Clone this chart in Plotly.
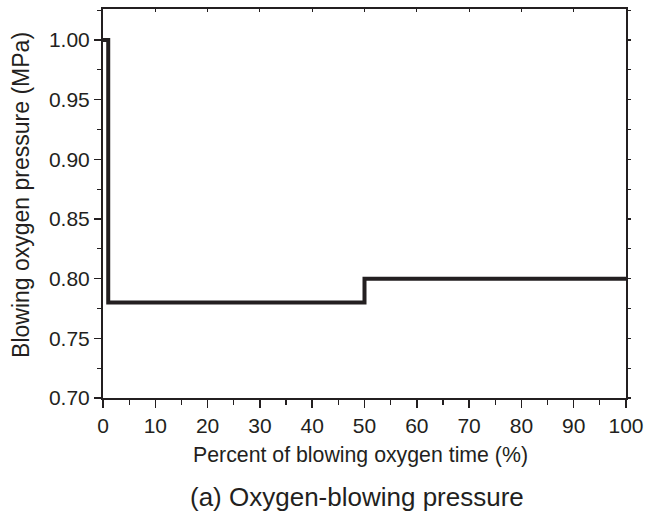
import plotly.graph_objects as go

time_pct = [0, 1, 50, 100]
pressure = [1.00, 0.78, 0.80, 0.80]
x_ticks = [0, 10, 20, 30, 40, 50, 60, 70, 80, 90, 100]
y_ticks = [0.70, 0.75, 0.80, 0.85, 0.90, 0.95, 1.00]

INK = "#231f20"
FONT = "Liberation Sans, Arial"

fig = go.Figure()
fig.add_trace(go.Scatter(x=time_pct, y=pressure, mode="lines", line_shape="hv",
                         line=dict(color=INK, width=4), hoverinfo="skip"))
# invisible trace to anchor the mirrored (top/right) axes
fig.add_trace(go.Scatter(x=time_pct, y=pressure, mode="lines", xaxis="x2", yaxis="y2",
                         line=dict(color="rgba(0,0,0,0)", width=0), hoverinfo="skip"))

axis_common = dict(showline=True, linecolor=INK, linewidth=2, mirror=False, automargin=False,
                   ticks="outside", tickwidth=1.5, tickcolor=INK,
                   showgrid=False, zeroline=False,
                   tickfont=dict(family=FONT, size=21, color=INK))

fig.update_layout(
    xaxis=dict(range=[0, 100], tickvals=x_ticks, ticktext=[str(v) for v in x_ticks], ticklen=8,
               minor=dict(dtick=5, tick0=0, ticks="outside", ticklen=5, tickcolor=INK, tickwidth=1.2),
               **axis_common),
    yaxis=dict(range=[0.70, 1.026], tickvals=y_ticks, ticktext=[f"{v:.2f}" for v in y_ticks], ticklen=7,
               minor=dict(dtick=0.025, tick0=0.70, ticks="outside", ticklen=4, tickcolor=INK, tickwidth=1.2),
               **axis_common),
    xaxis2=dict(range=[0, 100], overlaying="x", side="top", anchor="y", showline=True, automargin=False,
                linecolor=INK, linewidth=2, ticks="inside", ticklen=3, tickwidth=1.2, tickcolor=INK,
                dtick=10, tick0=0, showticklabels=False, showgrid=False, zeroline=False),
    yaxis2=dict(range=[0.70, 1.026], overlaying="y", side="right", anchor="x", showline=True, automargin=False,
                linecolor=INK, linewidth=2, ticks="outside", ticklen=3, tickwidth=1.2, tickcolor=INK,
                dtick=0.025, tick0=0.70, showticklabels=False, showgrid=False, zeroline=False),
)

# axis titles and caption
fig.add_annotation(text="Percent of blowing oxygen time (%)", xref="paper", yref="paper",
                   x=0.4933, y=-0.1465, xanchor="center", yanchor="middle", showarrow=False,
                   font=dict(family=FONT, size=21.3, color=INK))
fig.add_annotation(text="Blowing oxygen pressure (MPa)", xref="paper", yref="paper",
                   x=-0.1568, y=0.522, xanchor="center", yanchor="middle", showarrow=False,
                   textangle=-90, font=dict(family=FONT, size=23, color=INK))
fig.add_annotation(text="(a) Oxygen-blowing pressure", xref="paper", yref="paper",
                   x=0.4857, y=-0.2545, xanchor="center", yanchor="middle", showarrow=False,
                   font=dict(family=FONT, size=26, color=INK))

fig.update_layout(width=646, height=511, showlegend=False,
                  paper_bgcolor="white", plot_bgcolor="white",
                  margin=dict(l=103, r=20, t=9, b=113))

# remove the default 8px page margin so the figure fills the 646x511 window exactly
fig.write_html("out.html", config={"displayModeBar": False, "staticPlot": True},
               post_script="document.body.style.margin='0';document.body.style.overflow='hidden';")
